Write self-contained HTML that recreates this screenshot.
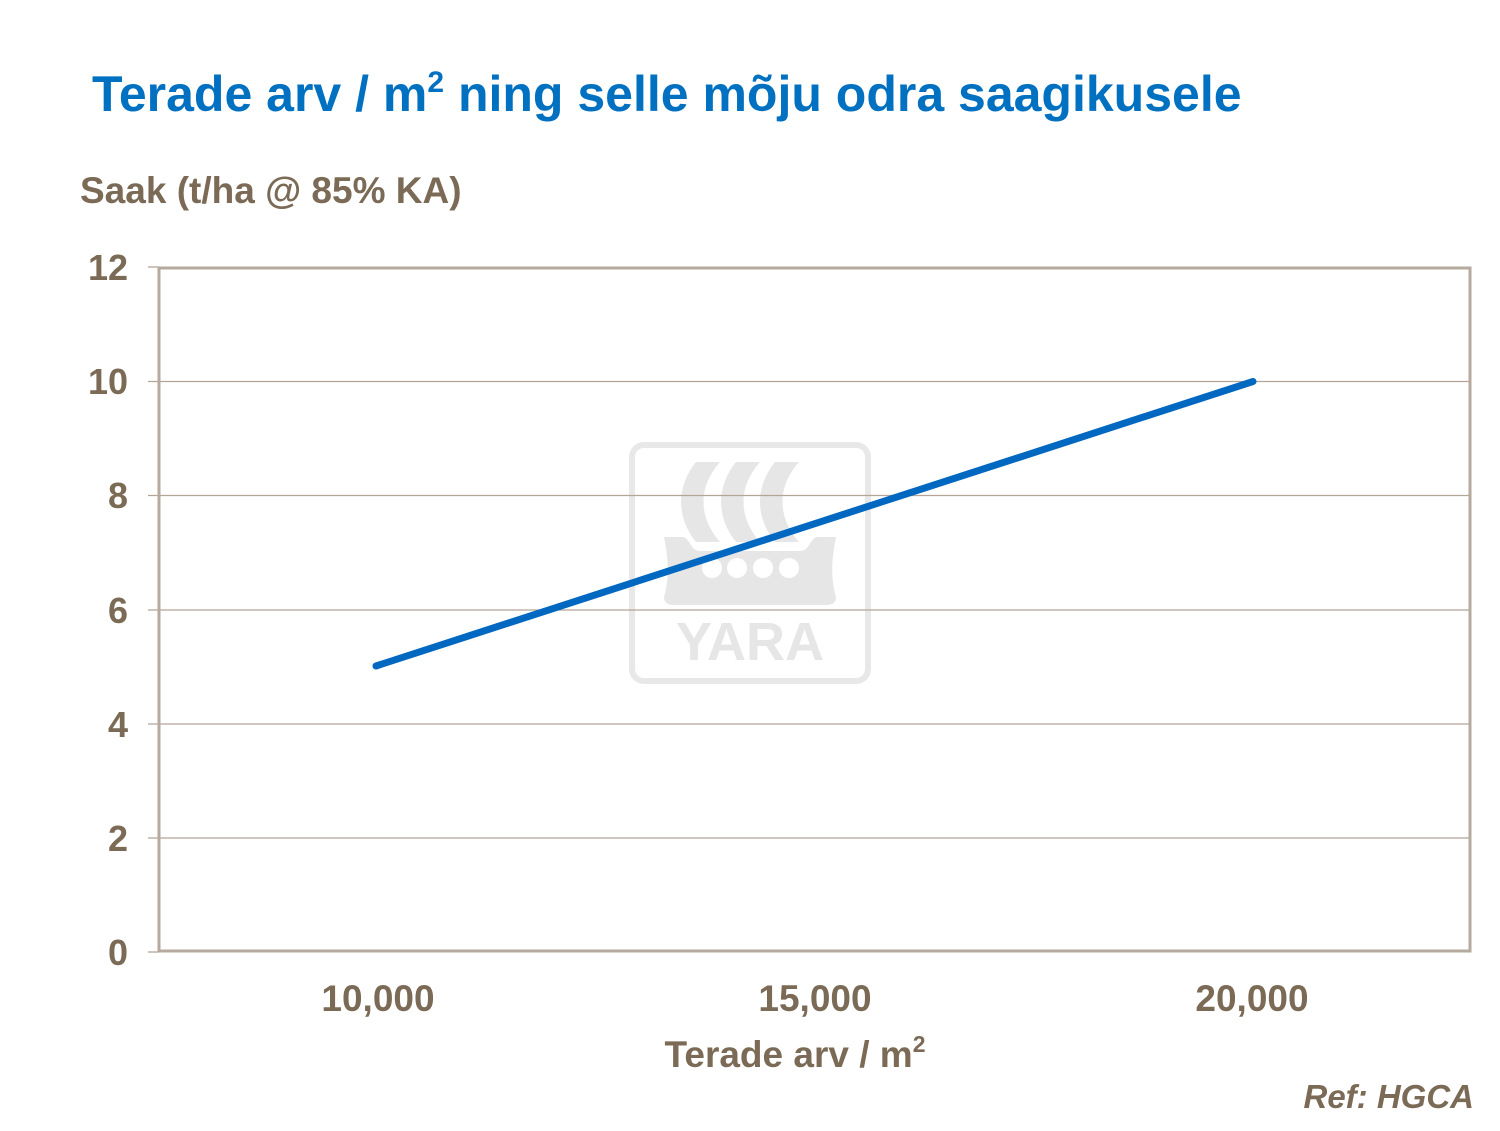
<!DOCTYPE html>
<html><head><style>
body{margin:0;background:#fff;}
svg text{font-family:"Liberation Sans",Arial,sans-serif;font-weight:bold;}
</style></head><body>
<svg width="1500" height="1126" viewBox="0 0 1500 1126" xmlns="http://www.w3.org/2000/svg">
<text x="92" y="111" font-size="50" fill="#0070c0">Terade arv / m<tspan font-size="30" dy="-19">2</tspan><tspan dy="19"> ning selle mõju odra saagikusele</tspan></text>
<text x="80" y="203" font-size="37" fill="#7b6a55">Saak (t/ha @ 85% KA)</text>
<!-- logo -->
<g fill="#e6e6e6">
<rect x="632" y="445" width="236" height="236" rx="12" fill="none" stroke="#e8e8e8" stroke-width="6"/>
<path d="M696 462h24c-22 25-22 55 0 80h-24c-20-25-20-55 0-80z"/>
<path d="M736 462h24c-22 25-22 55 0 80h-24c-20-25-20-55 0-80z"/>
<path d="M775 462h24c-22 25-22 55 0 80h-24c-20-25-20-55 0-80z"/>
<path d="M664 537h18c8 0 8 14 18 14h100c10 0 10-14 18-14h18c-4 20-6 40 0 60c0 6-4 8-10 8h-152c-6 0-10-2-10-8c6-20 4-40 0-60z"/>
<text x="750" y="660" font-size="54" text-anchor="middle" fill="#e6e6e6">YARA</text>
</g>
<g fill="#fff"><circle cx="712" cy="568" r="10"/><circle cx="737" cy="568" r="10"/><circle cx="763" cy="568" r="10"/><circle cx="789" cy="568" r="10"/></g>
<!-- grid -->
<g stroke="#b3a596" stroke-width="1.3">
<line x1="148" y1="381.5" x2="1470" y2="381.5"/>
<line x1="148" y1="495.5" x2="1470" y2="495.5"/>
<line x1="148" y1="610" x2="1470" y2="610"/>
<line x1="148" y1="724" x2="1470" y2="724"/>
<line x1="148" y1="838" x2="1470" y2="838"/>
<line x1="148" y1="267" x2="159" y2="267"/>
<line x1="148" y1="952" x2="159" y2="952"/>
</g>
<rect x="159" y="268" width="1311" height="683" fill="none" stroke="#b6aa9e" stroke-width="3"/>
<line x1="376" y1="666" x2="1253" y2="381.5" stroke="#0068c0" stroke-width="7" stroke-linecap="round"/>
<g font-size="36" fill="#7b6a55" text-anchor="end">
<text x="128" y="280">12</text><text x="128" y="394">10</text><text x="128" y="508">8</text>
<text x="128" y="623">6</text><text x="128" y="737">4</text><text x="128" y="851">2</text><text x="128" y="965">0</text>
</g>
<g font-size="37" fill="#7b6a55" text-anchor="middle">
<text x="378" y="1011">10,000</text><text x="815" y="1011">15,000</text><text x="1252" y="1011">20,000</text>
<text x="795" y="1067">Terade arv / m<tspan font-size="23" dy="-15">2</tspan></text>
</g>
<text x="1474" y="1108" font-size="33" fill="#7b6a55" text-anchor="end" font-style="italic">Ref: HGCA</text>
</svg>
</body></html>
